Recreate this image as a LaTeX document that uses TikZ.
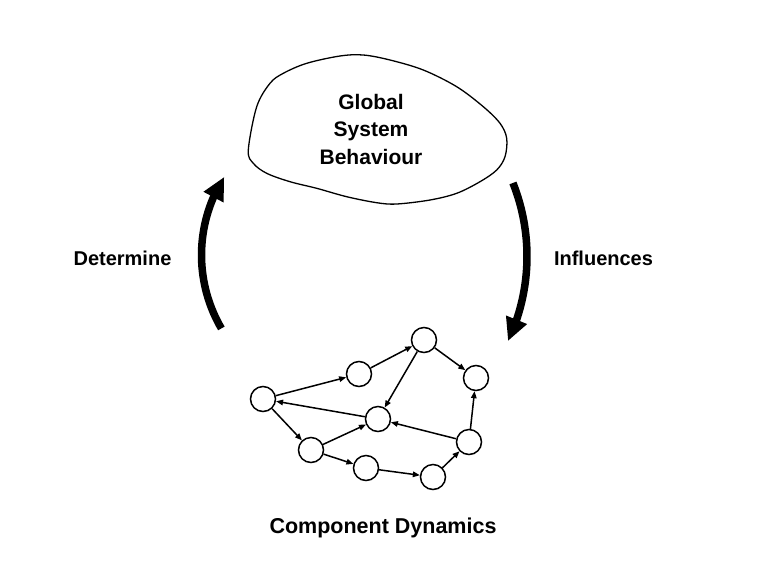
\documentclass[tikz,border=0pt]{standalone}
\usepackage{fontspec}
\setmainfont{Liberation Sans}
\usetikzlibrary{arrows.meta,bending}
\begin{document}
\begin{tikzpicture}[x=1pt,y=-1pt,
  comp/.style={draw,circle,line width=1.5pt,minimum size=25pt,inner sep=0pt},
  link/.style={line width=1.5pt,-{Triangle[length=7pt,width=5.5pt]}},
  bigarrow/.style={line width=7.5pt,-{Triangle[length=23pt,width=21pt,flex]}},
  lbl/.style={font=\bfseries\fontsize{20}{24}\selectfont,anchor=base,inner sep=0pt},
  blobtext/.style={font=\bfseries\fontsize{21}{27.5}\selectfont,align=center,inner sep=0pt}
]
\useasboundingbox (0,0) rectangle (760,582);
% blob
\draw[line width=1.3pt] plot[smooth cycle,tension=0.55] coordinates {
 (248.3,150) (256.7,106.7) (270,83.3) (283.3,73.3) (306.7,63.3) (340,56)
 (363.3,55) (390,60) (423.3,70) (456.7,86.7) (483.3,106.7) (500,123.3)
 (506.7,138.3) (505,156.7) (496.7,170) (480,181.7) (456.7,193.3) (430,200)
 (396.7,204) (376.7,202.7) (346.7,196.7) (316.7,188.3) (290,181.7)
 (266.7,173.3) (253.3,163.3)};
\node[blobtext] (gsb) at (371,129) {Global\\System\\Behaviour};
% big arrows
\coordinate (lc) at (347,255);
\coordinate (rc) at (328.6,256.3);
\draw[bigarrow] (lc) ++(149.7:145.5) arc[start angle=149.7,end angle=212.5,radius=145.5];
\draw[bigarrow] (rc) ++(-21.7:198.4) arc[start angle=-21.7,end angle=25.3,radius=198.4];
\node[lbl] (det) at (122.5,265) {Determine};
\node[lbl] (inf) at (603.5,265) {Influences};
% network
\node[comp] (A) at (263,399) {};
\node[comp] (B) at (359,374) {};
\node[comp] (C) at (424,340) {};
\node[comp] (D) at (476,378) {};
\node[comp] (E) at (378,419) {};
\node[comp] (F) at (311,450) {};
\node[comp] (G) at (366,468) {};
\node[comp] (H) at (433,477) {};
\node[comp] (I) at (469,442) {};
\draw[link] (A) -- (B);
\draw[link] (B) -- (C);
\draw[link] (C) -- (D);
\draw[link] (C) -- (E);
\draw[link] (E) -- (A);
\draw[link] (A) -- (F);
\draw[link] (F) -- (E);
\draw[link] (F) -- (G);
\draw[link] (G) -- (H);
\draw[link] (H) -- (I);
\draw[link] (I) -- (D);
\draw[link] (I) -- (E);
\node[lbl,font=\bfseries\fontsize{21.5}{26}\selectfont] (cd) at (383,533.5) {Component Dynamics};
\end{tikzpicture}
\end{document}
